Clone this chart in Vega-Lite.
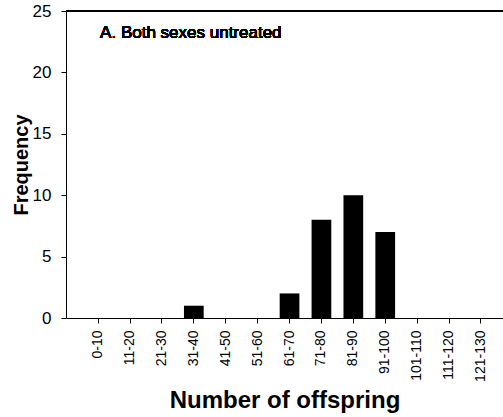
{
  "$schema": "https://vega.github.io/schema/vega-lite/v6.json",
  "autosize": {"type": "none"},
  "padding": {"left": 66, "top": 11, "right": 0, "bottom": 99},
  "width": 437,
  "height": 307,
  "background": "white",
  "config": {
    "view": {"stroke": null},
    "font": "Liberation Sans",
    "axis": {
      "grid": false,
      "domainColor": "black",
      "tickColor": "black",
      "labelColor": "black",
      "titleColor": "black",
      "labelFont": "Liberation Sans",
      "titleFont": "Liberation Sans",
      "tickSize": 5,
      "domainWidth": 1,
      "tickWidth": 1
    }
  },
  "data": {
    "values": [
      {"range": "0-10", "count": 0},
      {"range": "11-20", "count": 0},
      {"range": "21-30", "count": 0},
      {"range": "31-40", "count": 1},
      {"range": "41-50", "count": 0},
      {"range": "51-60", "count": 0},
      {"range": "61-70", "count": 2},
      {"range": "71-80", "count": 8},
      {"range": "81-90", "count": 10},
      {"range": "91-100", "count": 7},
      {"range": "101-110", "count": 0},
      {"range": "111-120", "count": 0},
      {"range": "121-130", "count": 0}
    ]
  },
  "layer": [
    {
      "mark": {"type": "bar", "color": "black"},
      "encoding": {
        "x": {
          "field": "range",
          "type": "nominal",
          "sort": null,
          "scale": {"paddingInner": 0.382, "paddingOuter": 0.54, "align": 0.646},
          "axis": {
            "title": "Number of offspring",
            "titleFontSize": 24,
            "titleFontWeight": "bold",
            "titlePadding": 7,
            "labelAngle": -90,
            "labelFontSize": 14,
            "labelPadding": 7
          }
        },
        "y": {
          "field": "count",
          "type": "quantitative",
          "scale": {"domain": [0, 25], "nice": false},
          "axis": {
            "title": "Frequency",
            "titleFontSize": 20,
            "titleFontWeight": "bold",
            "titlePadding": 1,
            "values": [0, 5, 10, 15, 20, 25],
            "labelFontSize": 17,
            "labelPadding": 10
          }
        }
      }
    },
    {
      "mark": {"type": "rule", "color": "black", "strokeWidth": 1},
      "encoding": {"y": {"datum": 25}}
    },
    {
      "mark": {"type": "text", "align": "left", "baseline": "alphabetic", "fontSize": 17, "fontWeight": "normal", "dx": 2, "color": "black", "font": "Liberation Sans"},
      "encoding": {
        "x": {"datum": "0-10"},
        "y": {"datum": 22.8},
        "text": {"value": "A. Both sexes untreated"}
      }
    }
  ]
}
